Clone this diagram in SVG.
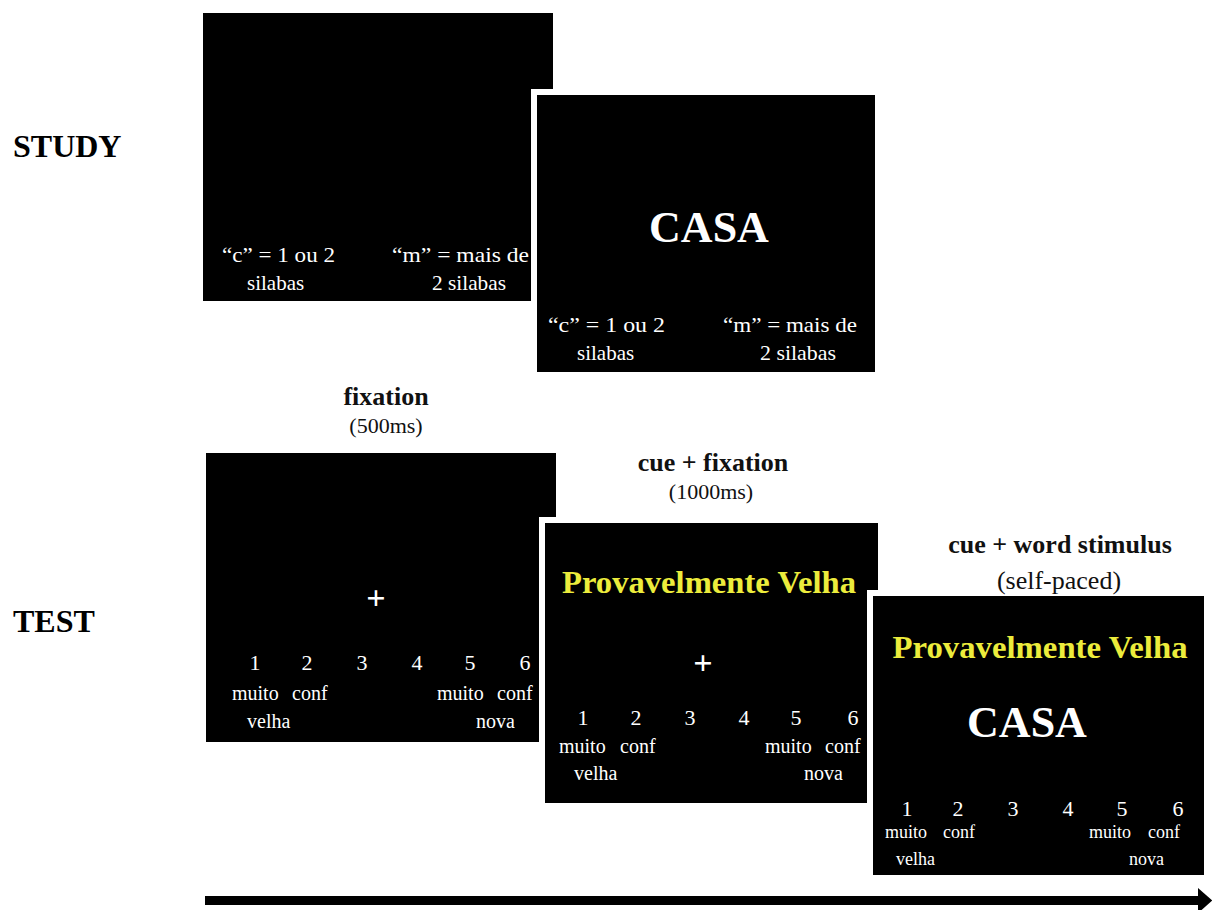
<svg xmlns="http://www.w3.org/2000/svg" width="1212" height="910" viewBox="0 0 1212 910" font-family="'Liberation Serif', 'DejaVu Serif', 'Times New Roman', serif">
<style>
text{font-family:"Liberation Serif","DejaVu Serif","Times New Roman",serif;}
.lab{font-size:32px;font-weight:bold;fill:#000;}
.hd{font-size:26px;font-weight:bold;fill:#111;text-anchor:middle;}
.sub{font-size:22px;fill:#111;text-anchor:middle;}
.scr{fill:#000;}
.halo{fill:#fff;}
.w{fill:#fff;font-size:21px;}
.num{fill:#fff;font-size:22px;text-anchor:middle;}
.lbl{fill:#fff;font-size:20px;}
.casa{fill:#fff;font-size:44px;font-weight:bold;text-anchor:middle;}
.cue{fill:#ecec3c;font-size:32px;font-weight:bold;text-anchor:middle;}
.plus{fill:#fff;font-size:34px;font-weight:bold;text-anchor:middle;}
</style>
<defs>
<marker id="ah" markerWidth="4" markerHeight="4" refX="0" refY="2" orient="auto" markerUnits="strokeWidth">
<path d="M0,0.6 L1.6,2 L0,3.4 Z" fill="#000"/>
</marker>
</defs>
<rect width="1212" height="910" fill="#fff"/>

<text class="lab" x="13" y="157">STUDY</text>
<text class="lab" x="13" y="632">TEST</text>

<g id="study1">
<rect class="scr" x="203" y="13" width="350" height="288"/>
<text class="w" x="222" y="262" textLength="113" lengthAdjust="spacingAndGlyphs">“c” = 1 ou 2</text>
<text class="w" x="247" y="290">silabas</text>
<text class="w" x="392" y="262" textLength="137" lengthAdjust="spacingAndGlyphs">“m” = mais  de</text>
<text class="w" x="432" y="290" textLength="74" lengthAdjust="spacingAndGlyphs">2 silabas</text>
</g>

<g id="study2">
<rect class="halo" x="531" y="89" width="350" height="289"/>
<rect class="scr" x="537" y="95" width="338" height="277"/>
<text class="casa" x="709" y="242">CASA</text>
<text class="w" x="548" y="332" textLength="117" lengthAdjust="spacingAndGlyphs">“c” = 1 ou 2</text>
<text class="w" x="577" y="360">silabas</text>
<text class="w" x="723" y="332" textLength="134" lengthAdjust="spacingAndGlyphs">“m” = mais  de</text>
<text class="w" x="760" y="360" textLength="76" lengthAdjust="spacingAndGlyphs">2 silabas</text>
</g>

<g id="label-fixation">
<text class="hd" x="386" y="405">fixation</text>
<text class="sub" x="386" y="433">(500ms)</text>
</g>

<g id="test1">
<rect class="scr" x="206" y="453" width="350" height="289"/>
<text class="plus" x="376" y="609">+</text>
<text class="num" x="255" y="670">1</text>
<text class="num" x="307" y="670">2</text>
<text class="num" x="362" y="670">3</text>
<text class="num" x="417" y="670">4</text>
<text class="num" x="470" y="670">5</text>
<text class="num" x="525" y="670">6</text>
<text class="lbl" x="232" y="700">muito</text>
<text class="lbl" x="292" y="700">conf</text>
<text class="lbl" x="437" y="700">muito</text>
<text class="lbl" x="497" y="700">conf</text>
<text class="lbl" x="247" y="728">velha</text>
<text class="lbl" x="476" y="728">nova</text>
</g>

<g id="label-cue-fixation">
<text class="hd" x="713" y="471">cue + fixation</text>
<text class="sub" x="711" y="499">(1000ms)</text>
</g>

<g id="test2">
<rect class="halo" x="539" y="517" width="345" height="292"/>
<rect class="scr" x="545" y="523" width="333" height="280"/>
<text class="cue" x="709" y="593" textLength="294" lengthAdjust="spacingAndGlyphs">Provavelmente Velha</text>
<text class="plus" x="703" y="674">+</text>
<text class="num" x="583" y="725">1</text>
<text class="num" x="636" y="725">2</text>
<text class="num" x="690" y="725">3</text>
<text class="num" x="744" y="725">4</text>
<text class="num" x="796" y="725">5</text>
<text class="num" x="853" y="725">6</text>
<text class="lbl" x="559" y="753">muito</text>
<text class="lbl" x="620" y="753">conf</text>
<text class="lbl" x="765" y="753">muito</text>
<text class="lbl" x="825" y="753">conf</text>
<text class="lbl" x="574" y="780">velha</text>
<text class="lbl" x="804" y="780">nova</text>
</g>

<g id="test3">
<rect class="halo" x="867" y="590" width="343" height="291"/>
<rect class="scr" x="873" y="596" width="331" height="279"/>
<text class="cue" x="1040" y="658" textLength="295" lengthAdjust="spacingAndGlyphs">Provavelmente Velha</text>
<text class="casa" x="1027" y="737">CASA</text>
<text class="num" x="907" y="816">1</text>
<text class="num" x="958" y="816">2</text>
<text class="num" x="1013" y="816">3</text>
<text class="num" x="1068" y="816">4</text>
<text class="num" x="1122" y="816">5</text>
<text class="num" x="1178" y="816">6</text>
<text class="lbl" x="885" y="838" style="font-size:18px">muito</text>
<text class="lbl" x="943" y="838" style="font-size:18px">conf</text>
<text class="lbl" x="1089" y="838" style="font-size:18px">muito</text>
<text class="lbl" x="1148" y="838" style="font-size:18px">conf</text>
<text class="lbl" x="896" y="865" style="font-size:18px">velha</text>
<text class="lbl" x="1129" y="865" style="font-size:18px">nova</text>
</g>

<g id="label-cue-word">
<text class="hd" x="1060" y="553">cue + word stimulus</text>
<text class="sub" x="1059" y="589" style="font-size:26px">(self-paced)</text>
</g>

<g id="connectors">
<line x1="205" y1="900.5" x2="1198" y2="900.5" stroke="#000" stroke-width="9" marker-end="url(#ah)"/>
</g>
</svg>
